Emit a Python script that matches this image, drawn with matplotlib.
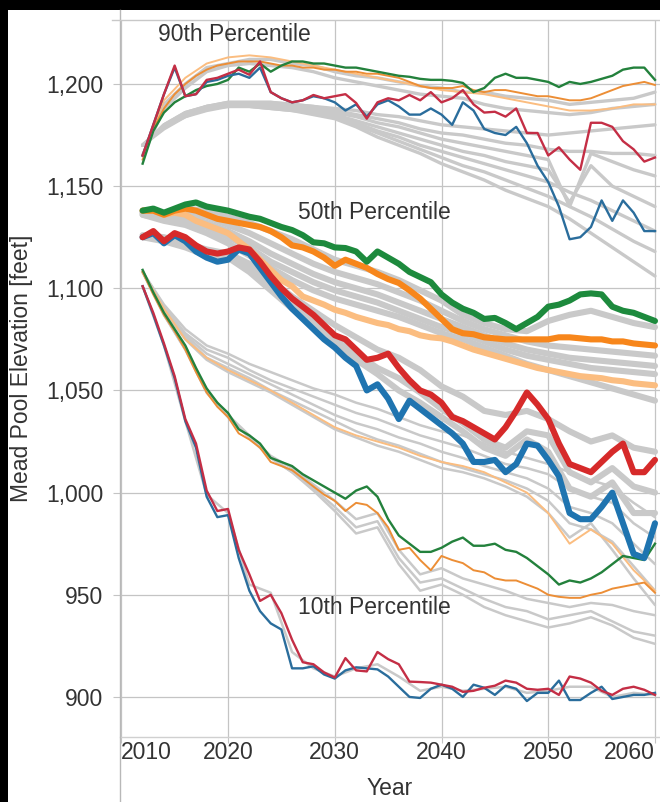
import matplotlib
matplotlib.use("Agg")
import matplotlib.pyplot as plt
from matplotlib.lines import Line2D
from matplotlib.patches import Rectangle

plt.rcParams['font.family'] = ['Liberation Sans', 'DejaVu Sans']

# ---------------- data ----------------
years = list(range(2012, 2061))
gray_years = list(range(2012, 2061, 2))

# 90th percentile (thin lines)
green_90 = [1161, 1177, 1186, 1191, 1194, 1197, 1199, 1200, 1202, 1208, 1206, 1210, 1206, 1209, 1211, 1211,
            1210, 1210, 1209, 1208, 1208, 1207, 1206, 1205, 1204, 1203.5, 1202.5, 1202, 1202, 1201.5, 1200.5,
            1196, 1198, 1203, 1205, 1203, 1203, 1202, 1201, 1198.5, 1201, 1200, 1201, 1202.5, 1204, 1207,
            1208, 1208, 1202]
orange_90 = [1163, 1178, 1188, 1195, 1200, 1204, 1207, 1209, 1210, 1211, 1211, 1211, 1210, 1209, 1209, 1208,
             1208, 1207, 1207, 1206, 1206, 1205, 1205, 1204, 1203, 1201, 1199, 1198, 1198, 1198, 1199, 1197,
             1196, 1197, 1197, 1196, 1195, 1194, 1194, 1193, 1192, 1192, 1193, 1195, 1197, 1199, 1200, 1201,
             1199.5]
lightorange_90 = [1165, 1192, 1203, 1210, 1213, 1214, 1213, 1211, 1209, 1207, 1205, 1203, 1201, 1199, 1197,
                  1196, 1195, 1193, 1191, 1189, 1187, 1187, 1188, 1190, 1190]
red_90 = [1165, 1180, 1195, 1209, 1194, 1195, 1202, 1203, 1205, 1207, 1204.5, 1211, 1196, 1193, 1191, 1192,
          1194.6, 1193, 1194, 1195, 1190.7, 1183, 1191, 1193, 1192, 1194.6, 1192, 1196, 1191, 1193, 1197, 1190,
          1186, 1186.4, 1184, 1188, 1176, 1176, 1165, 1169, 1163, 1158, 1181, 1181, 1179, 1172, 1168, 1162, 1164]
blue_90 = [1165, 1180, 1195, 1208, 1194, 1195, 1201, 1202, 1204, 1205, 1203, 1208, 1196, 1193, 1191, 1192,
           1194, 1193, 1191, 1187, 1190, 1184, 1190, 1192, 1189, 1185, 1185, 1188, 1185, 1180, 1191, 1187,
           1178, 1176, 1175, 1179, 1171, 1160, 1152, 1140, 1124, 1125, 1130, 1143, 1133, 1143, 1137, 1128, 1128]
gray_90 = [
    [1165, 1190, 1200, 1208, 1210, 1212, 1212, 1210, 1209, 1206, 1204, 1203, 1201, 1199, 1198, 1196, 1196, 1194, 1193, 1192, 1190, 1191, 1192, 1193, 1196],
    [1165, 1188, 1198, 1206, 1209, 1210, 1209, 1208, 1206, 1203, 1201, 1199, 1197, 1195, 1194, 1193, 1190, 1188, 1187, 1186, 1185, 1186, 1188, 1189, 1190],
    [1170, 1180, 1186, 1189, 1191, 1191, 1191, 1190, 1189, 1188, 1187, 1185, 1184, 1182, 1180, 1179, 1178, 1177, 1176, 1175, 1176, 1177, 1178, 1179, 1180],
    [1170, 1180, 1186, 1189, 1191, 1191, 1191, 1190, 1189, 1187, 1185, 1183, 1181, 1178, 1176, 1175, 1173, 1171, 1170, 1168, 1167, 1167, 1166, 1166, 1165],
    [1170, 1179, 1185, 1189, 1190, 1190, 1190, 1189, 1188, 1186, 1184, 1181, 1179, 1176, 1173, 1171, 1169, 1167, 1165, 1163, 1140, 1166, 1162, 1158, 1155],
    [1170, 1179, 1185, 1188, 1190, 1190, 1189, 1188, 1187, 1185, 1182, 1179, 1176, 1173, 1170, 1167, 1165, 1162, 1160, 1158, 1142, 1160, 1150, 1145, 1140],
    [1170, 1179, 1185, 1188, 1190, 1190, 1189, 1188, 1186, 1185, 1181, 1177, 1174, 1170, 1167, 1164, 1161, 1158, 1155, 1152, 1147, 1143, 1138, 1133, 1128],
    [1170, 1179, 1184, 1188, 1189, 1189, 1188, 1187, 1186, 1184, 1180, 1176, 1172, 1168, 1164, 1160, 1157, 1153, 1149, 1145, 1140, 1135, 1129, 1123, 1118],
    [1170, 1178, 1184, 1187, 1189, 1189, 1188, 1187, 1185, 1183, 1179, 1174, 1170, 1166, 1161, 1157, 1153, 1148, 1144, 1140, 1134, 1127, 1120, 1113, 1106],
]

# 50th percentile (thick lines)
green_50 = [1138, 1139, 1137, 1139, 1141, 1142, 1140, 1139, 1138, 1136.5, 1135, 1134, 1132, 1130, 1128.5, 1126,
            1122.5, 1122, 1120, 1119.7, 1118, 1113, 1118, 1115, 1112, 1108, 1105.5, 1103, 1097, 1093, 1090,
            1088, 1085, 1085.5, 1083, 1080, 1083, 1086, 1091, 1092, 1094, 1097, 1097.5, 1097, 1091, 1089,
            1088, 1086, 1084]
orange_50 = [1138, 1138, 1136, 1138, 1139, 1138, 1136, 1134, 1133, 1132, 1131, 1130, 1128, 1125, 1121, 1120,
             1118, 1115, 1111, 1114, 1112, 1110, 1107, 1104.5, 1102.6, 1099, 1095, 1090, 1085, 1080, 1078,
             1077.5, 1076, 1075.5, 1075, 1075, 1075, 1075, 1075, 1076, 1076, 1075.5, 1075, 1075, 1074, 1074,
             1073, 1072.5, 1072]
lightorange_50 = [1138, 1138, 1136, 1137, 1136, 1133, 1131, 1129, 1127, 1123, 1119, 1114, 1109, 1104, 1101,
                  1096, 1094, 1092, 1089.5, 1088, 1086, 1084.5, 1083, 1082, 1080, 1079, 1077, 1076, 1075.5,
                  1074, 1072, 1070, 1068.5, 1067, 1065.5, 1064, 1062.5, 1061, 1060, 1059, 1058, 1057, 1056.5,
                  1056, 1055, 1054.5, 1053.5, 1053, 1052.5]
red_50 = [1125, 1128, 1123, 1127, 1125, 1121, 1118, 1117, 1118, 1120, 1119, 1113, 1106, 1100, 1095, 1091, 1087,
          1082, 1077, 1075, 1070, 1065, 1066, 1068, 1061, 1055, 1050, 1048, 1044, 1037, 1035, 1032, 1029, 1026,
          1032, 1040, 1049, 1043, 1036, 1024, 1014, 1012, 1010, 1015, 1020, 1024, 1010, 1010, 1016]
blue_50 = [1125, 1127, 1122, 1126, 1123, 1118, 1115, 1113, 1114, 1119, 1117, 1110, 1103, 1096, 1090, 1085, 1080,
           1075, 1071, 1066, 1062, 1050, 1053, 1046, 1036, 1045, 1041, 1037, 1033, 1029, 1024, 1015, 1015, 1016,
           1010, 1014, 1024, 1023, 1016, 1008, 990, 987, 987, 993, 1000, 985, 970, 968, 985]
gray_50 = [
    [1138, 1137, 1139, 1138, 1135, 1132, 1128, 1124, 1119, 1114, 1111, 1108, 1104, 1099, 1094, 1087, 1083, 1080, 1079, 1084, 1087, 1089, 1086, 1083, 1081],
    [1137, 1136, 1137, 1135, 1131, 1127, 1122, 1117, 1112, 1108, 1105, 1102, 1098, 1094, 1089, 1084, 1080, 1077, 1074, 1072, 1071, 1070, 1069, 1068, 1067],
    [1137, 1135, 1135, 1132, 1128, 1123, 1117, 1112, 1107, 1103, 1100, 1097, 1093, 1089, 1085, 1081, 1077, 1073, 1070, 1068, 1066, 1065, 1064, 1063, 1062],
    [1136, 1134, 1133, 1130, 1125, 1120, 1113, 1108, 1103, 1099, 1096, 1093, 1089, 1085, 1081, 1078, 1074, 1070, 1067, 1065, 1063, 1061, 1060, 1059, 1058],
    [1136, 1133, 1131, 1127, 1122, 1116, 1110, 1104, 1099, 1095, 1092, 1089, 1086, 1082, 1078, 1075, 1071, 1067, 1063, 1060, 1057, 1054, 1051, 1048, 1045],
    [1126, 1125, 1122, 1119, 1117, 1112, 1104, 1096, 1089, 1082, 1076, 1070, 1066, 1060, 1052, 1047, 1040, 1038, 1040, 1036, 1030, 1025, 1028, 1022, 1020],
    [1125, 1124, 1121, 1117, 1116, 1110, 1101, 1093, 1085, 1076, 1068, 1061, 1056, 1049, 1041, 1034, 1026, 1022, 1030, 1028, 1010, 1005, 1012, 1003, 1000],
    [1125, 1123, 1120, 1116, 1115, 1108, 1099, 1090, 1082, 1073, 1065, 1058, 1050, 1044, 1037, 1030, 1022, 1018, 1026, 1020, 1002, 998, 1005, 990, 990],
]

# 10th percentile (thin lines)
green_10 = [1109, 1098, 1088, 1080, 1072, 1061, 1051, 1044, 1039, 1031, 1028, 1024, 1017, 1015, 1013, 1009, 1006,
            1003, 1000, 997, 1001, 1003, 998, 987, 979, 975, 971, 971, 973, 976, 978, 974, 974, 975, 972, 971,
            968, 964, 960, 955, 957, 956, 958, 961, 965, 969, 968, 967, 975]
orange_10 = [1108, 1097, 1087, 1079, 1070, 1059, 1049, 1042, 1037, 1029, 1026, 1022, 1015, 1013, 1011, 1007,
             1003, 999, 996, 991, 995, 994, 990, 983, 972, 973, 967, 962, 969, 967, 965.5, 962, 961, 958, 957,
             957, 955, 953, 950, 949, 948.5, 948.5, 950, 951, 953, 954, 955, 956, 951]
lightorange_10 = [1108, 1090, 1075, 1066, 1060, 1055, 1050, 1044, 1038, 1032, 1028, 1025, 1022, 1018, 1015,
                  1013, 1010, 1005, 1000, 990, 975, 982, 975, 962, 952]
red_10 = [1101, 1088, 1073, 1057, 1036, 1024, 1001, 991, 992, 972, 960, 947, 950, 941, 928, 917, 916, 912, 909.5,
          919, 913, 912.5, 922, 918.5, 916, 907.5, 907.3, 907, 906, 905, 902.5, 903, 904.5, 905.5, 908, 907, 904,
          903.5, 904, 901, 910, 909, 907, 903, 901, 904, 905, 903.5, 901]
blue_10 = [1101, 1087, 1072, 1056, 1035, 1022, 998, 988, 989, 968, 952, 942, 936, 933, 914, 914, 915, 911, 909,
           913, 914.5, 914, 913.5, 910, 905, 900, 899.5, 904, 906, 904, 900, 906, 904.5, 901, 905.5, 904, 898,
           902, 902, 908, 898.5, 898.5, 902, 905, 899, 900, 901, 901, 902]
gray_10 = [
    [1108, 1092, 1080, 1072, 1068, 1063, 1059, 1055, 1051, 1048, 1044, 1041, 1037, 1033, 1030, 1028, 1024, 1020, 1017, 1014, 1010, 1006, 1003, 995, 988],
    [1108, 1091, 1078, 1070, 1066, 1060, 1055, 1051, 1047, 1043, 1039, 1036, 1032, 1028, 1025, 1022, 1018, 1014, 1012, 1009, 1002, 998, 995, 985, 978],
    [1108, 1090, 1077, 1068, 1063, 1058, 1053, 1048, 1043, 1038, 1034, 1031, 1027, 1024, 1020, 1017, 1013, 1010, 1007, 1002, 993, 990, 985, 975, 965],
    [1108, 1090, 1076, 1066, 1061, 1056, 1050, 1045, 1040, 1035, 1030, 1026, 1023, 1019, 1015, 1012, 1009, 1006, 1002, 996, 985, 982, 976, 964, 952],
    [1108, 1089, 1075, 1065, 1059, 1054, 1049, 1043, 1037, 1031, 1027, 1023, 1020, 1016, 1012, 1010, 1007, 1003, 998, 990, 978, 985, 972, 958, 945],
    [1108, 1087, 1071, 1050, 1038, 1028, 1018, 1012, 1004, 996, 987, 990, 972, 960, 963, 958, 955, 952, 948, 946, 944, 946, 945, 942, 940],
    [1108, 1087, 1070, 1049, 1037, 1027, 1017, 1010, 1002, 993, 983, 986, 968, 956, 958, 953, 948, 944, 942, 938, 940, 942, 937, 932, 930],
    [1108, 1087, 1070, 1049, 1037, 1027, 1017, 1010, 1001, 991, 980, 983, 965, 952, 955, 950, 944, 940, 937, 934, 936, 939, 935, 929, 926],
    [1101, 1072, 1035, 999, 990, 955, 951, 922, 914, 910, 914, 916, 910, 903, 905, 903, 904, 905, 902, 903, 905, 905, 900, 902, 901],
]

x_ticks = [2010, 2020, 2030, 2040, 2050, 2060]
y_ticks = [900, 950, 1000, 1050, 1100, 1150, 1200]
group_labels = ["90th Percentile", "50th Percentile", "10th Percentile"]

# ---------------- styles ----------------
GRAY = '#c9c9c9'
C_GREEN = '#1d8a3d'
C_ORANGE = '#f7861b'
C_LORANGE = '#fbbd80'
C_RED = '#d62a2a'
C_BLUE = '#1f74b0'
C_RED_T = '#c42e45'
C_BLUE_T = '#2a6d9c'
C_GREEN_T = '#23813c'
C_ORANGE_T = '#ec8e36'

THIN = 1.4
THICK = 4.4

W, H = 660, 802
fig = plt.figure(figsize=(W / 100, H / 100), dpi=100, facecolor='black')
fig.patches.append(Rectangle((8 / W, 0), 1 - 8 / W, 1 - 10 / H, transform=fig.transFigure,
                             facecolor='white', edgecolor='none', zorder=-10))

ax = fig.add_axes([120 / W, 1 - 737 / H, 540 / W, (737 - 20) / H])
ax.set_facecolor('white')

# gray context lines
for g in gray_90:
    ax.plot(gray_years, g, color=GRAY, lw=THIN + 1.0, solid_capstyle='round', zorder=2)
for g in gray_50:
    ax.plot(gray_years, g, color=GRAY, lw=THICK, solid_capstyle='round', zorder=2)
for g in gray_10:
    ax.plot(gray_years, g, color=GRAY, lw=THIN + 0.4, solid_capstyle='round', zorder=2)

# 90th
ax.plot(gray_years, lightorange_90, color=C_LORANGE, lw=THIN, zorder=3)
ax.plot(years, orange_90, color=C_ORANGE_T, lw=THIN, zorder=4)
ax.plot(years, green_90, color=C_GREEN_T, lw=THIN + 0.3, zorder=5)
ax.plot(years, blue_90, color=C_BLUE_T, lw=THIN + 0.3, zorder=6)
ax.plot(years, red_90, color=C_RED_T, lw=THIN + 0.3, zorder=7)

# 50th
ax.plot(years, lightorange_50, color=C_LORANGE, lw=THICK, solid_capstyle='round', zorder=3)
ax.plot(years, orange_50, color=C_ORANGE, lw=THICK, solid_capstyle='round', zorder=4)
ax.plot(years, green_50, color=C_GREEN, lw=THICK, solid_capstyle='round', zorder=5)
ax.plot(years, blue_50, color=C_BLUE, lw=THICK, solid_capstyle='round', zorder=6)
ax.plot(years, red_50, color=C_RED, lw=THICK, solid_capstyle='round', zorder=7)

# 10th
ax.plot(gray_years, lightorange_10, color=C_LORANGE, lw=THIN, zorder=3)
ax.plot(years, orange_10, color=C_ORANGE_T, lw=THIN, zorder=4)
ax.plot(years, green_10, color=C_GREEN_T, lw=THIN + 0.3, zorder=5)
ax.plot(years, blue_10, color=C_BLUE_T, lw=THIN + 0.3, zorder=6)
ax.plot(years, red_10, color=C_RED_T, lw=THIN + 0.3, zorder=7)

ax.set_xlim(2009.88, 2060.47)
ax.set_ylim(880.4, 1231.3)

ax.set_xticks(x_ticks)
ax.set_xticklabels([str(t) for t in x_ticks])
ax.set_yticks(y_ticks)
ax.set_yticklabels([f"{t:,}" for t in y_ticks])
labs = ax.get_xticklabels()
labs[0].set_ha('left')
labs[-1].set_ha('right')

ax.grid(True, color='#c4c4c4', lw=0.9, zorder=0)
ax.set_axisbelow(True)
for s in ['left', 'right', 'top']:
    ax.spines[s].set_visible(False)
ax.spines['bottom'].set_color('#d0d0d0')
ax.spines['bottom'].set_linewidth(1.0)
ax.tick_params(axis='y', length=5, color='#c4c4c4', pad=7, labelsize=16.5, labelcolor='#333333')
ax.tick_params(axis='x', length=4.5, color='#c4c4c4', pad=-1.5, labelsize=16.5, labelcolor='#333333')

ax.set_xlabel('Year', fontsize=16.5, color='#333333', labelpad=9)
fig.text(22 / W, 1 - 368 / H, 'Mead Pool Elevation [feet]', rotation=90, fontsize=16.5,
         color='#333333', ha='center', va='center')

# divider lines
fig.add_artist(Line2D([120 / W, 120 / W], [0, 1 - 10 / H], color='#b8b8b8', lw=1.0))
fig.add_artist(Line2D([112 / W, 1.0], [1 - 20 / H, 1 - 20 / H], color='#c8c8c8', lw=1.0))

# group labels
ax.text(2013.44, 1224, group_labels[0], fontsize=16.5, color='#333333', va='center', ha='left', zorder=10)
ax.text(2026.56, 1137, group_labels[1], fontsize=16.5, color='#333333', va='center', ha='left', zorder=10)
ax.text(2026.56, 944, group_labels[2], fontsize=16.5, color='#333333', va='center', ha='left', zorder=10)

fig.savefig('out.png', dpi=100, facecolor='black')
